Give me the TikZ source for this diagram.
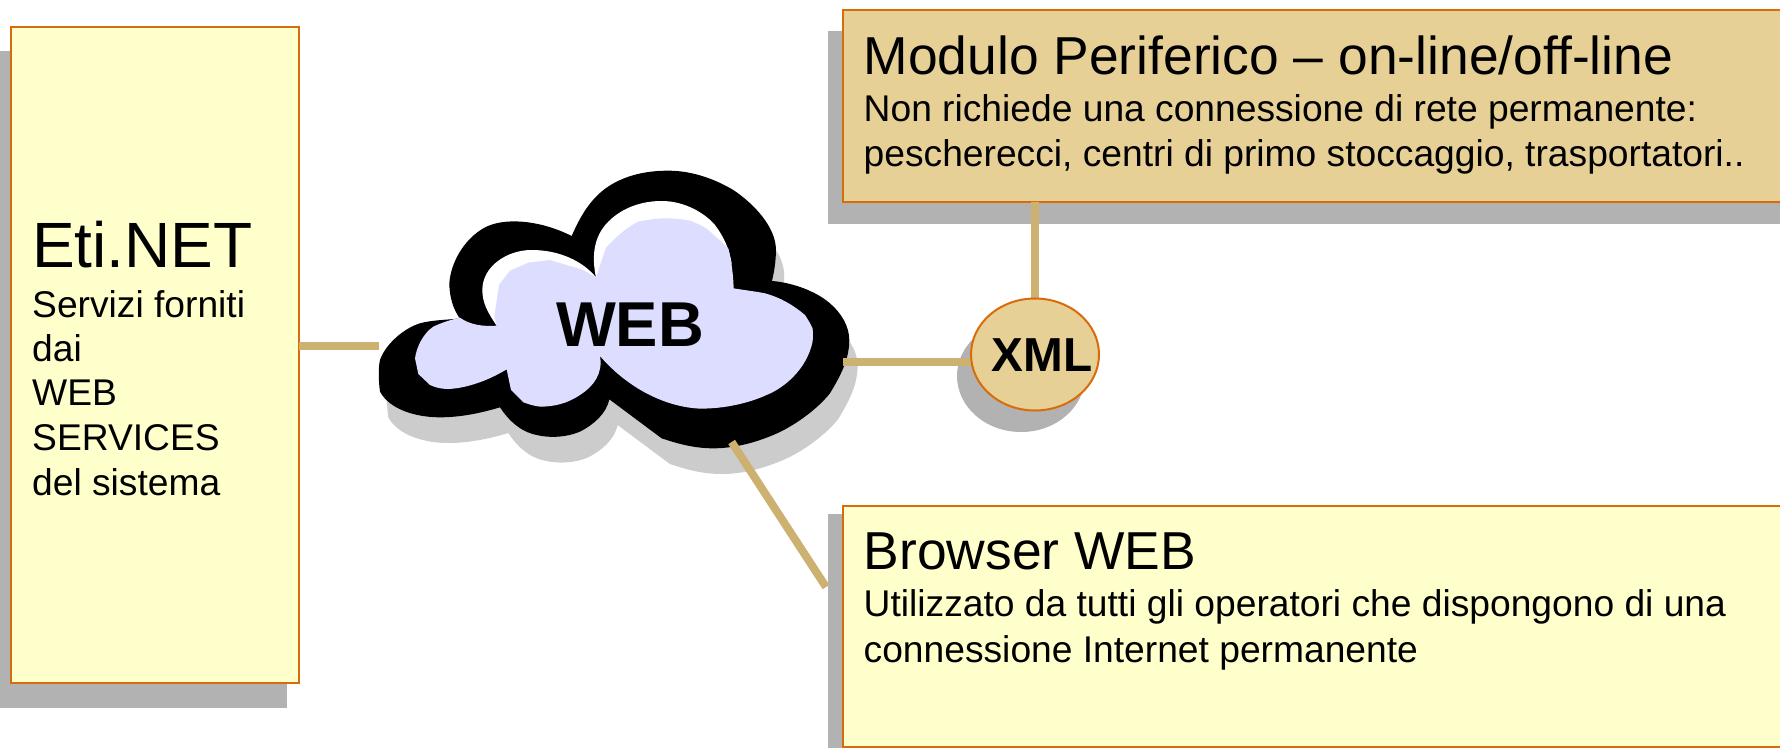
\documentclass[tikz,border=0pt]{standalone}
\usepackage{fontspec}
\setmainfont{Liberation Sans}
\usetikzlibrary{shapes.geometric}
\definecolor{cream}{HTML}{FFFFCC}
\definecolor{tan}{HTML}{E6D095}
\definecolor{edge}{HTML}{D86C0A}
\definecolor{shade}{HTML}{B2B2B2}
\definecolor{link}{HTML}{CCB170}
\definecolor{lav}{HTML}{DDDDFF}
\definecolor{cloudshade}{HTML}{CCCCCC}
\newcommand{\cloudouter}{(635,258) .. controls (665,190) and (700,130) .. (770,95) .. controls (810,75) and (860,62) .. (925,62) .. controls (1000,62) and (1070,90) .. (1120,120) .. controls (1180,160) and (1248,230) .. (1248,300) .. controls (1248,330) and (1243,365) .. (1236,393) .. controls (1300,398) and (1370,425) .. (1410,460) .. controls (1445,490) and (1468,530) .. (1468,570) .. controls (1468,630) and (1440,680) .. (1410,730) .. controls (1370,780) and (1300,830) .. (1240,855) .. controls (1180,880) and (1120,895) .. (1060,895) .. controls (1000,895) and (950,880) .. (905,865) -- (748,748) .. controls (740,790) and (700,825) .. (660,845) .. controls (620,862) and (570,865) .. (530,855) .. controls (480,845) and (445,810) .. (420,772) .. controls (360,790) and (300,802) .. (240,802) .. controls (170,802) and (90,780) .. (60,725) .. controls (55,690) and (55,650) .. (60,630) .. controls (75,585) and (130,535) .. (180,520) .. controls (215,510) and (260,510) .. (300,505) .. controls (280,480) and (268,440) .. (268,400) .. controls (272,340) and (310,270) .. (370,235) .. controls (430,200) and (540,210) .. (635,258) -- cycle}
\tikzset{
  px/.style={x=1pt,y=-1pt},
  cardshade/.style={fill=shade,draw=none},
  card/.style={rectangle,draw=edge,line width=2pt,inner sep=0pt,outer sep=0pt,anchor=north west},
  creamcard/.style={card,fill=cream},
  tancard/.style={card,fill=tan},
  wire/.style={draw=link,line width=8pt},
  big/.style={anchor=base west,inner sep=0pt,font=\fontsize{53.4}{53.4}\selectfont},
  huge/.style={anchor=base west,inner sep=0pt,font=\fontsize{64}{64}\selectfont},
  small/.style={anchor=base west,inner sep=0pt,font=\fontsize{37.2}{37.2}\selectfont},
  strong/.style={anchor=base,inner sep=0pt,font=\fontsize{63.4}{63.4}\selectfont\bfseries},
  strongsmall/.style={anchor=base,inner sep=0pt,font=\fontsize{47.7}{47.7}\selectfont\bfseries},
  cloudcoords/.style={x=0.3333pt,y=-0.3333pt,shift={(360pt,-150pt)}},
}
\begin{document}
\begin{tikzpicture}[px]
\useasboundingbox (0,0) rectangle (1780,748);
\clip (0,0) rectangle (1780,748);
\fill[white] (0,0) rectangle (1780,748);
% card shadows
\fill[cardshade] (0,51) rectangle (287,708);
\fill[cardshade] (828,31) rectangle (1780,224);
\fill[cardshade] (828,514) rectangle (1780,748);
% cloud
\begin{scope}[cloudcoords]
\fill[cloudshade,shift={(8.3pt,-25.7pt)}] \cloudouter;
\fill[black] \cloudouter;
\fill[white] (410,527) .. controls (385,490) and (367,460) .. (367,420) .. controls (367,350) and (440,300) .. (515,300) .. controls (600,300) and (670,335) .. (708,382) .. controls (695,320) and (700,260) .. (745,215) .. controls (790,170) and (850,153) .. (905,153) .. controls (980,153) and (1040,195) .. (1065,225) .. controls (1095,265) and (1108,300) .. (1115,340) -- (1000,500) -- (500,500) -- cycle;
\fill[lav] (708,382) -- (738,293) .. controls (765,265) and (795,235) .. (835,215) .. controls (870,208) and (895,205) .. (920,205) .. controls (950,206) and (970,208) .. (990,212) .. controls (1010,220) and (1030,228) .. (1045,240) .. controls (1065,258) and (1085,276) .. (1105,295) .. controls (1115,335) and (1120,375) .. (1121,415) .. controls (1150,420) and (1185,424) .. (1215,430) .. controls (1260,442) and (1300,465) .. (1335,495) .. controls (1345,510) and (1352,522) .. (1358,535) .. controls (1360,555) and (1358,575) .. (1358,575) .. controls (1340,660) and (1270,715) .. (1220,735) .. controls (1160,762) and (1090,776) .. (1020,776) .. controls (900,770) and (790,700) .. (720,618) .. controls (730,670) and (700,710) .. (660,735) .. controls (620,762) and (580,770) .. (540,770) .. controls (520,768) and (505,762) .. (490,757) -- (453,720) -- (440,658) .. controls (380,695) and (310,717) .. (260,717) .. controls (240,716) and (225,712) .. (210,705) -- (175,672) -- (165,625) .. controls (170,590) and (190,550) .. (220,530) .. controls (245,518) and (270,510) .. (300,503) .. controls (330,525) and (370,530) .. (410,527) -- (403,500) -- (417,405) -- (450,362) -- (505,338) -- (570,330) -- (670,360) -- cycle;
\coordinate (cloudL) at (57,589);
\coordinate (cloudR) at (1450,637);
\coordinate (cloudB) at (1115,876);
\end{scope}
\node[strong] (web) at (630,346) {WEB};
% boxes
\node[creamcard,minimum width=288pt,minimum height=656pt] (eti) at (11,26.5) {};
\node[tancard,minimum width=960pt,minimum height=192pt] (modulo) at (843,10) {};
\node[creamcard,minimum width=960pt,minimum height=241pt] (browser) at (843,506) {};
\coordinate (browserEnd) at (826,587);
% xml shadow, connectors, xml
\path (1021,376) node[ellipse,cardshade,minimum width=128pt,minimum height=112pt,inner sep=0pt] (xmlshadow) {};
\path (1035,354.5) coordinate (xmlc);
\draw[wire] (eti.east |- cloudL) -- (cloudL);
\draw[wire] (cloudR) -- (xmlc |- cloudR);
\draw[wire] (cloudB) -- (browserEnd);
\draw[wire] (xmlc |- modulo.south) -- (xmlc);
\node[ellipse,fill=tan,draw=edge,line width=2pt,minimum width=128pt,minimum height=112pt,inner sep=0pt,outer sep=0pt] (xmlnode) at (xmlc) {};
\node[strongsmall] (xmltext) at (1042,371) {XML};
% texts
\node[huge] (t1) at (32,267) {Eti.NET};
\node[small] (t2) at (32,317) {Servizi forniti};
\node[small] (t3) at (32,361) {dai};
\node[small] (t4) at (32,405) {WEB};
\node[small] (t5) at (32,450) {SERVICES};
\node[small] (t6) at (32,495) {del sistema};
\node[big] (m1) at (863.5,74) {Modulo Periferico – on-line/off-line};
\node[small] (m2) at (863.5,121) {Non richiede una connessione di rete permanente:};
\node[small] (m3) at (863.5,166) {pescherecci, centri di primo stoccaggio, trasportatori..};
\node[big] (b1) at (863.5,569) {Browser WEB};
\node[small] (b2) at (863.5,616) {Utilizzato da tutti gli operatori che dispongono di una};
\node[small] (b3) at (863.5,662) {connessione Internet permanente};
\end{tikzpicture}
\end{document}
